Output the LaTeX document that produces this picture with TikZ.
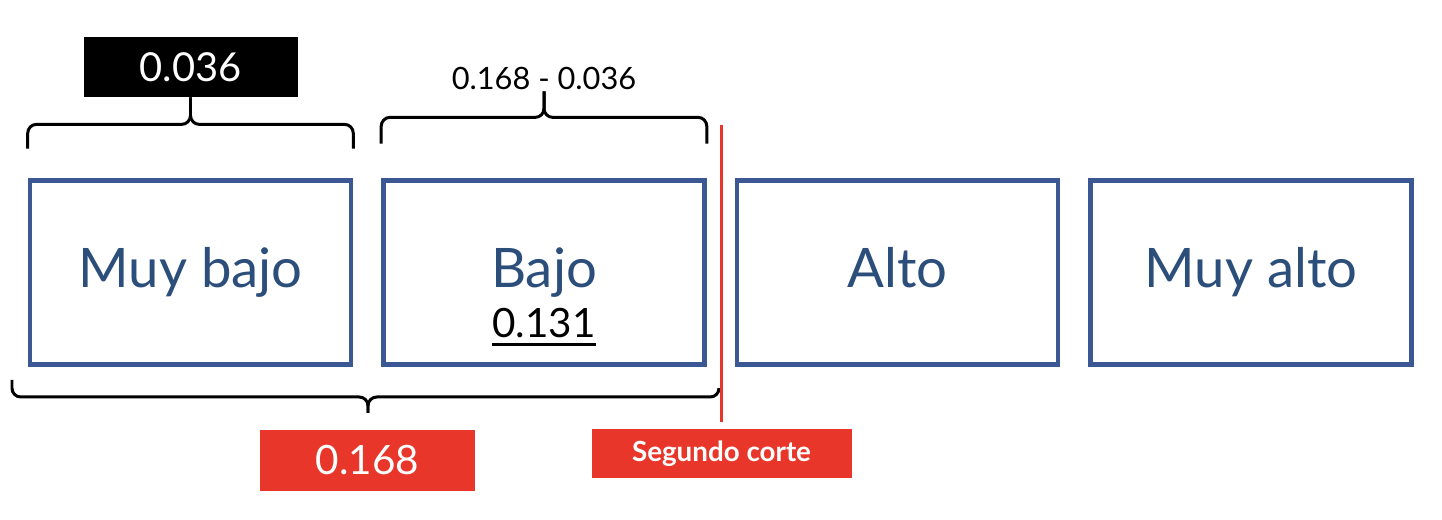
\documentclass[tikz,border=0pt]{standalone}
\usepackage{fontspec}
\setmainfont{Lato}
\usepackage{xcolor}
\usepackage{tikz}
\usetikzlibrary{calc}
\newcommand{\thickul}[1]{\setbox0=\hbox{#1}\vtop{\hbox{\copy0}\kern2.6pt\hrule height 1.6pt width \wd0}}
\definecolor{levelblue}{HTML}{3B5794}
\definecolor{leveltext}{HTML}{2C4E7A}
\definecolor{cutred}{HTML}{E8372A}
\tikzstyle{level} = [draw=levelblue, line width=2.6pt, rectangle, text=leveltext,
minimum width=6.42cm, minimum height=3.68cm, text height=22.5pt, text depth=5pt,
font=\fontsize{31}{37}\selectfont]
\tikzstyle{blacktag} = [fill=black, text=white, rectangle, inner sep=0pt,
minimum width=4.28cm, minimum height=1.2cm, font=\fontsize{22.7}{27}\selectfont]
\tikzstyle{redtag} = [fill=cutred, text=white, rectangle, inner sep=0pt]
\tikzstyle{brace} = [draw, line width=1.7pt, rounded corners=5pt]
\tikzstyle{cut} = [draw=cutred, line width=2.2pt]

\begin{document}
\begin{tikzpicture}[auto, node distance=7.07cm]
	% keep the margins of the reference
	\useasboundingbox (0,0) rectangle (28.84,10.4);
	% the four levels, left to right
	\node [level] (muybajo) at (3.81,4.95) {Muy bajo};
	\node [level, right of=muybajo] (bajo) {Bajo};
	\node [level, right of=bajo] (alto) {Alto};
	\node [level, right of=alto] (muyalto) {Muy alto};
	\node [anchor=base, font=\fontsize{23}{27}\selectfont] (bajoval) at (10.88,3.64) {\thickul{0.131}};
	
	% the widths written above and below
	\node [blacktag, above of=muybajo, node distance=4.11cm] (firstcut) {0.036};
	\node [inner sep=1pt, font=\fontsize{17.5}{21}\selectfont] (diff) at (10.88,8.84) {0.168 - 0.036};
	\node [redtag, minimum width=4.3cm, minimum height=1.22cm,
	font=\fontsize{23}{27}\selectfont] (total) at (7.35,1.19) {0.168};
	\node [redtag, minimum width=5.2cm, minimum height=0.98cm,
	font=\bfseries\fontsize{15.8}{19}\selectfont] (second) at (14.43,1.33) {Segundo corte};
	
	% braces over the first two levels
	\draw [brace] ($(muybajo.north west)+(0,0.59)$) |- ($(firstcut.south)+(0,-0.54)$) -- (firstcut.south);
	\draw [brace] (firstcut.south) -- ++(0,-0.54) -| ($(muybajo.north east)+(0,0.59)$);
	\draw [brace] ($(bajo.north west)+(0,0.69)$) |- ($(diff.south)+(0,-0.52)$) -- (diff.south);
	\draw [brace] (diff.south) -- ++(0,-0.52) -| ($(bajo.north east)+(0,0.69)$);
	
	% brace under both, its tip points at the total
	\coordinate (lowleft) at (0.24,2.8);
	\coordinate (lowright) at (14.38,2.62);
	\coordinate (lowtip) at (7.36,2.14);
	\draw [brace] (lowleft) |- (lowtip |- 0,2.46) -- (lowtip);
	\draw [brace] (lowtip) -- (lowtip |- 0,2.46) -| (lowright);
	
	% the second cut
	\coordinate (cuttop) at (14.43,7.9);
	\draw [cut, shorten >=0.14cm] (cuttop) -- (second.north);
\end{tikzpicture}
\end{document}
